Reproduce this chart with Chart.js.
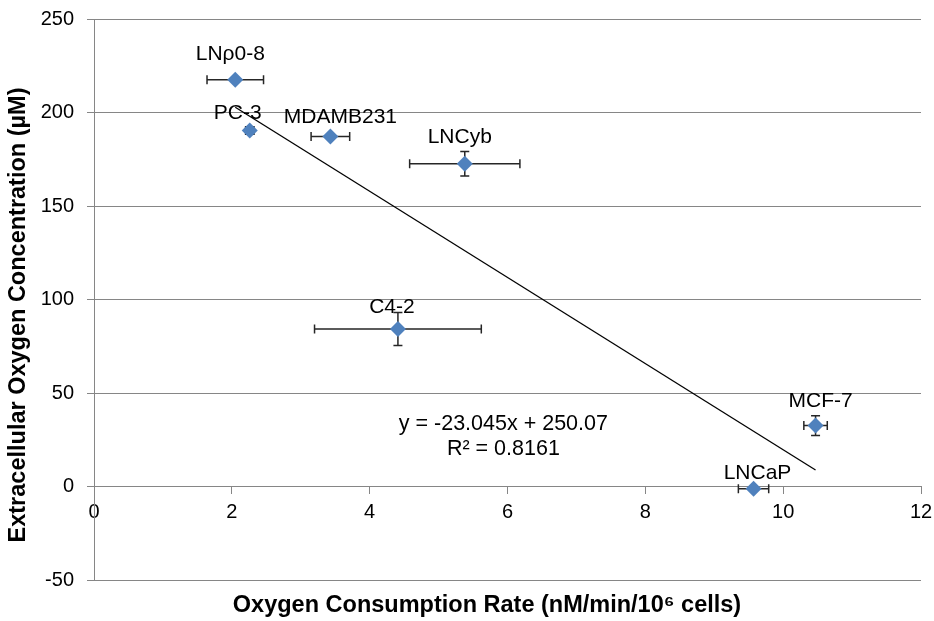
<!DOCTYPE html>
<html>
<head>
<meta charset="utf-8">
<script src="https://cdn.jsdelivr.net/npm/chart.js@4.4.0/dist/chart.umd.min.js"></script>
<style>
html,body{margin:0;padding:0;background:#ffffff;}
#wrap{width:934px;height:621px;position:relative;}
</style>
</head>
<body>
<div id="wrap"><canvas id="c" width="934" height="621"></canvas></div>
<script>
// ---- data ----
const cellLines = ['LNρ0-8', 'PC-3', 'MDAMB231', 'LNCyb', 'C4-2', 'MCF-7', 'LNCaP'];
const consumptionRate = [2.05, 2.26, 3.43, 5.38, 4.41, 10.47, 9.57];
const oxygenConc = [217.5, 190.4, 187.2, 172.6, 84.2, 32.6, -1.2];
const rateError = [0.41, 0.06, 0.28, 0.80, 1.21, 0.17, 0.22];
const concError = [0, 2, 0, 6.5, 8.8, 5.3, 0];
const trendSlope = -23.045;
const trendIntercept = 250.07;
const equationText = ['y = -23.045x + 250.07', 'R² = 0.8161'];
const xTickValues = [0, 2, 4, 6, 8, 10, 12];
const yTickValues = [-50, 0, 50, 100, 150, 200, 250];
const xAxisTitle = 'Oxygen Consumption Rate (nM/min/10⁶ cells)';
const yAxisTitle = 'Extracellular Oxygen Concentration (µM)';

// ---- build library structures ----
const points = consumptionRate.map((x, i) => ({ x: x, y: oxygenConc[i] }));
const xMin = Math.min(...consumptionRate);
const xMax = Math.max(...consumptionRate);
const trendPoints = [
  { x: xMin, y: trendSlope * xMin + trendIntercept },
  { x: xMax, y: trendSlope * xMax + trendIntercept }
];

const FONT = '"Liberation Sans", Arial, sans-serif';
const GRID = '#868686';

const errorBarPlugin = {
  id: 'errorBars',
  beforeDatasetsDraw(chart) {
    const xs = chart.scales.x, ys = chart.scales.y;
    const ctx = chart.ctx;
    const cap = 4.5;
    ctx.save();
    ctx.strokeStyle = '#262626';
    ctx.lineWidth = 1.5;
    consumptionRate.forEach((xv, i) => {
      const yv = oxygenConc[i];
      const px = xs.getPixelForValue(xv);
      const py = ys.getPixelForValue(yv);
      if (rateError[i] > 0) {
        const x1 = xs.getPixelForValue(xv - rateError[i]);
        const x2 = xs.getPixelForValue(xv + rateError[i]);
        ctx.beginPath();
        ctx.moveTo(x1, py); ctx.lineTo(x2, py);
        ctx.moveTo(x1, py - cap); ctx.lineTo(x1, py + cap);
        ctx.moveTo(x2, py - cap); ctx.lineTo(x2, py + cap);
        ctx.stroke();
      }
      if (concError[i] > 0) {
        const y1 = ys.getPixelForValue(yv - concError[i]);
        const y2 = ys.getPixelForValue(yv + concError[i]);
        ctx.beginPath();
        ctx.moveTo(px, y1); ctx.lineTo(px, y2);
        ctx.moveTo(px - cap, y1); ctx.lineTo(px + cap, y1);
        ctx.moveTo(px - cap, y2); ctx.lineTo(px + cap, y2);
        ctx.stroke();
      }
    });
    ctx.restore();
  }
};

const textPlugin = {
  id: 'chartTexts',
  afterDatasetsDraw(chart, args, opts) {
    const ctx = chart.ctx;
    const xs = chart.scales.x, ys = chart.scales.y;
    ctx.save();
    ctx.fillStyle = '#000';
    ctx.textAlign = 'center';
    ctx.textBaseline = 'middle';
    // point labels
    ctx.font = '21px ' + FONT;
    const meta = chart.getDatasetMeta(1);
    meta.data.forEach((el, i) => {
      const off = opts.labelOffsets[i];
      ctx.fillText(cellLines[i], el.x + off[0], el.y + off[1]);
    });
    // trendline equation
    ctx.font = '21.5px ' + FONT;
    const ex = xs.getPixelForValue(opts.equationAt[0]);
    const ey = ys.getPixelForValue(opts.equationAt[1]);
    ctx.fillText(equationText[0], ex, ey);
    ctx.fillText(equationText[1], ex, ey + opts.equationLineGap);
    // axis titles
    ctx.font = 'bold 23.5px ' + FONT;
    ctx.fillText(xAxisTitle, opts.xTitleAt[0], opts.xTitleAt[1]);
    ctx.translate(opts.yTitleAt[0], opts.yTitleAt[1]);
    ctx.rotate(-Math.PI / 2);
    ctx.fillText(yAxisTitle, 0, 0);
    ctx.restore();
  }
};

const chart = new Chart(document.getElementById('c').getContext('2d'), {
  type: 'scatter',
  data: {
    datasets: [
      {
        label: 'Linear trend',
        type: 'line',
        data: trendPoints,
        borderColor: '#000000',
        borderWidth: 1.3,
        pointRadius: 0,
        fill: false,
        order: 1
      },
      {
        label: 'Cell lines',
        data: points,
        pointStyle: 'rectRot',
        pointRadius: 8,
        pointHoverRadius: 8,
        backgroundColor: '#4F81BD',
        borderColor: '#4F81BD',
        borderWidth: 0,
        order: 2
      }
    ]
  },
  options: {
    responsive: false,
    animation: false,
    devicePixelRatio: 1,
    layout: { padding: { left: 0, top: 19, right: 13, bottom: 41 } },
    plugins: {
      legend: { display: false },
      tooltip: { enabled: false },
      chartTexts: {
        labelOffsets: [[-5, -26], [-12, -17], [10, -19], [-5, -27], [-6, -22], [5, -24], [4, -16]],
        equationAt: [5.94, 33.3],
        equationLineGap: 25,
        xTitleAt: [487, 606],
        yTitleAt: [19, 315]
      }
    },
    scales: {
      x: {
        type: 'linear',
        position: { y: 0 },
        min: 0, max: 12,
        afterBuildTicks(scale) { scale.ticks = xTickValues.map(v => ({ value: v })); },
        afterFit(scale) { scale.paddingLeft = 0; scale.paddingRight = 0; },
        ticks: { color: '#000', font: { family: FONT, size: 20 }, padding: 7, maxRotation: 0 },
        grid: { drawOnChartArea: false, drawTicks: true, tickLength: 7, color: GRID },
        border: { display: true, color: GRID, width: 1 }
      },
      y: {
        type: 'linear',
        position: 'left',
        min: -50, max: 250,
        afterBuildTicks(scale) { scale.ticks = yTickValues.map(v => ({ value: v })); },
        afterFit(scale) { scale.width = 94; scale.paddingTop = 0; scale.paddingBottom = 0; },
        ticks: { color: '#000', font: { family: FONT, size: 20 }, padding: 13 },
        grid: { color: GRID, tickLength: 7, lineWidth: 1 },
        border: { display: true, color: GRID, width: 1 }
      }
    }
  },
  plugins: [errorBarPlugin, textPlugin]
});
</script>
</body>
</html>
